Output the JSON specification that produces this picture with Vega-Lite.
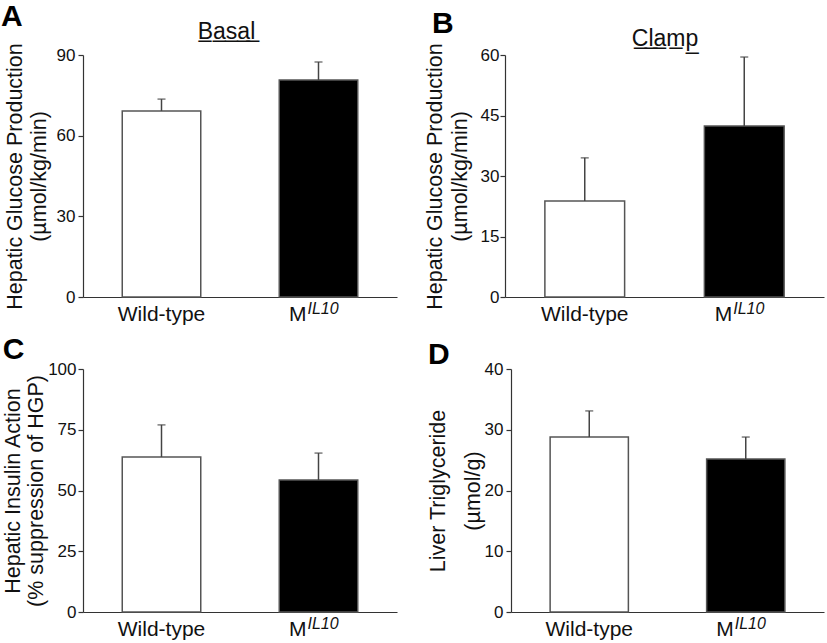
{
  "$schema": "https://vega.github.io/schema/vega-lite/v6.json",
  "padding": {"left": 1, "top": 2, "right": 2, "bottom": 0},
  "config": {
    "font": "Liberation Sans",
    "view": {"stroke": null},
    "axis": {"grid": false, "domainColor": "#333", "tickColor": "#333", "domainWidth": 1.2, "tickWidth": 1.2, "tickSize": 5, "labelFontSize": 17, "labelColor": "#111", "labelPadding": 3, "labelFlush": false, "titleFontSize": 21.5, "titleFontWeight": "normal", "titleColor": "#111", "titleLineHeight": 24},
    "title": {"fontSize": 30, "fontWeight": "bold", "anchor": "start", "frame": "bounds", "color": "#000"},
    "text": {"fontSize": 21, "font": "Liberation Sans", "color": "#111"}
  },
  "datasets": {
    "A": [
      {"group": "Wild-type", "label": "Wild-type", "sup": "", "value": 69.2, "err": 73.6},
      {"group": "MIL10", "label": "M", "sup": "IL10", "value": 80.7, "err": 87.4}
    ],
    "B": [
      {"group": "Wild-type", "label": "Wild-type", "sup": "", "value": 23.8, "err": 34.5},
      {"group": "MIL10", "label": "M", "sup": "IL10", "value": 42.4, "err": 59.5}
    ],
    "C": [
      {"group": "Wild-type", "label": "Wild-type", "sup": "", "value": 63.8, "err": 77.0},
      {"group": "MIL10", "label": "M", "sup": "IL10", "value": 54.3, "err": 65.4}
    ],
    "D": [
      {"group": "Wild-type", "label": "Wild-type", "sup": "", "value": 28.8, "err": 33.1},
      {"group": "MIL10", "label": "M", "sup": "IL10", "value": 25.2, "err": 28.8}
    ]
  },
  "spacing": 10,
  "vconcat": [
    {
      "bounds": "flush",
      "spacing": 108,
      "hconcat": [
        {
          "width": 314, "height": 242,
          "title": {"text": "A", "dx": -3, "offset": -12},
          "data": {"name": "A"},
          "resolve": {"axis": {"x": "independent"}},
          "layer": [
            {"mark": {"type": "bar", "stroke": "#555", "strokeWidth": 1.5},
             "encoding": {
               "x": {"field": "group", "type": "nominal", "sort": null, "scale": {"domain": ["Wild-type", "MIL10"], "paddingInner": 0.5, "paddingOuter": 0.25}, "axis": {"orient": "bottom", "title": null, "labels": false, "ticks": false, "domain": true}},
               "y": {"field": "value", "type": "quantitative", "scale": {"domain": [0, 90]}, "axis": {"values": [0, 30, 60, 90], "title": ["Hepatic Glucose Production", "(µmol/kg/min)"], "titlePadding": 6}},
               "fill": {"field": "group", "type": "nominal", "scale": {"domain": ["Wild-type", "MIL10"], "range": ["#ffffff", "#000000"]}, "legend": null}
             }},
            {"mark": {"type": "rule", "color": "#444", "strokeWidth": 1.5},
             "encoding": {
               "x": {"field": "group", "type": "nominal", "sort": null, "axis": {"orient": "top", "title": "B\u0332a\u0332s\u0332a\u0332l\u0332", "titleFontSize": 23, "titlePadding": 12, "titleX": 143, "labels": false, "ticks": false, "domain": false}},
               "y": {"field": "value", "type": "quantitative"},
               "y2": {"field": "err"}
             }},
            {"mark": {"type": "tick", "orient": "horizontal", "size": 8, "thickness": 1.5, "color": "#444"},
             "encoding": {
               "x": {"field": "group", "type": "nominal", "sort": null, "axis": null},
               "y": {"field": "err", "type": "quantitative"}
             }},
            {"transform": [{"filter": "datum.group == 'Wild-type'"}],
             "mark": {"type": "text", "align": "center", "baseline": "alphabetic", "dy": 24},
             "encoding": {
               "x": {"field": "group", "type": "nominal", "sort": null, "axis": null},
               "y": {"datum": 0, "type": "quantitative"},
               "text": {"field": "label"}
             }},
            {"transform": [{"filter": "datum.group == 'MIL10'"}],
             "mark": {"type": "text", "align": "right", "baseline": "alphabetic", "dy": 24, "dx": -12},
             "encoding": {
               "x": {"field": "group", "type": "nominal", "sort": null, "axis": null},
               "y": {"datum": 0, "type": "quantitative"},
               "text": {"field": "label"}
             }},
            {"transform": [{"filter": "datum.group == 'MIL10'"}],
             "mark": {"type": "text", "align": "left", "baseline": "alphabetic", "dy": 17, "dx": -11, "fontSize": 16, "fontStyle": "italic"},
             "encoding": {
               "x": {"field": "group", "type": "nominal", "sort": null, "axis": null},
               "y": {"datum": 0, "type": "quantitative"},
               "text": {"field": "sup"}
             }}
          ]
        },
        {
          "width": 319, "height": 242,
          "title": {"text": "B", "dx": 8, "offset": -12},
          "data": {"name": "B"},
          "resolve": {"axis": {"x": "independent"}},
          "layer": [
            {"mark": {"type": "bar", "stroke": "#555", "strokeWidth": 1.5},
             "encoding": {
               "x": {"field": "group", "type": "nominal", "sort": null, "scale": {"domain": ["Wild-type", "MIL10"], "paddingInner": 0.5, "paddingOuter": 0.25}, "axis": {"orient": "bottom", "title": null, "labels": false, "ticks": false, "domain": true}},
               "y": {"field": "value", "type": "quantitative", "scale": {"domain": [0, 60]}, "axis": {"values": [0, 15, 30, 45, 60], "title": ["Hepatic Glucose Production", "(µmol/kg/min)"], "titlePadding": 9, "titleLineHeight": 25, "labelPadding": 1}},
               "fill": {"field": "group", "type": "nominal", "scale": {"domain": ["Wild-type", "MIL10"], "range": ["#ffffff", "#000000"]}, "legend": null}
             }},
            {"mark": {"type": "rule", "color": "#444", "strokeWidth": 1.5},
             "encoding": {
               "x": {"field": "group", "type": "nominal", "sort": null, "axis": {"orient": "top", "title": "C\u0332l\u0332a\u0332m\u0332p\u0332", "titleFontSize": 23, "titlePadding": 5, "labels": false, "ticks": false, "domain": false}},
               "y": {"field": "value", "type": "quantitative"},
               "y2": {"field": "err"}
             }},
            {"mark": {"type": "tick", "orient": "horizontal", "size": 8, "thickness": 1.5, "color": "#444"},
             "encoding": {
               "x": {"field": "group", "type": "nominal", "sort": null, "axis": null},
               "y": {"field": "err", "type": "quantitative"}
             }},
            {"transform": [{"filter": "datum.group == 'Wild-type'"}],
             "mark": {"type": "text", "align": "center", "baseline": "alphabetic", "dy": 24},
             "encoding": {
               "x": {"field": "group", "type": "nominal", "sort": null, "axis": null},
               "y": {"datum": 0, "type": "quantitative"},
               "text": {"field": "label"}
             }},
            {"transform": [{"filter": "datum.group == 'MIL10'"}],
             "mark": {"type": "text", "align": "right", "baseline": "alphabetic", "dy": 24, "dx": -12},
             "encoding": {
               "x": {"field": "group", "type": "nominal", "sort": null, "axis": null},
               "y": {"datum": 0, "type": "quantitative"},
               "text": {"field": "label"}
             }},
            {"transform": [{"filter": "datum.group == 'MIL10'"}],
             "mark": {"type": "text", "align": "left", "baseline": "alphabetic", "dy": 17, "dx": -11, "fontSize": 16, "fontStyle": "italic"},
             "encoding": {
               "x": {"field": "group", "type": "nominal", "sort": null, "axis": null},
               "y": {"datum": 0, "type": "quantitative"},
               "text": {"field": "sup"}
             }}
          ]
        }
      ]
    },
    {
      "bounds": "flush",
      "spacing": 114,
      "hconcat": [
        {
          "width": 314, "height": 243,
          "title": {"text": "C", "dx": 0, "offset": -5},
          "data": {"name": "C"},
          "layer": [
            {"mark": {"type": "bar", "stroke": "#555", "strokeWidth": 1.5},
             "encoding": {
               "x": {"field": "group", "type": "nominal", "sort": null, "scale": {"domain": ["Wild-type", "MIL10"], "paddingInner": 0.5, "paddingOuter": 0.25}, "axis": {"orient": "bottom", "title": null, "labels": false, "ticks": false, "domain": true}},
               "y": {"field": "value", "type": "quantitative", "scale": {"domain": [0, 100]}, "axis": {"values": [0, 25, 50, 75, 100], "title": ["Hepatic Insulin Action", "(% suppression of HGP)"], "titlePadding": 0, "titleLineHeight": 23, "labelPadding": 2}},
               "fill": {"field": "group", "type": "nominal", "scale": {"domain": ["Wild-type", "MIL10"], "range": ["#ffffff", "#000000"]}, "legend": null}
             }},
            {"mark": {"type": "rule", "color": "#444", "strokeWidth": 1.5},
             "encoding": {
               "x": {"field": "group", "type": "nominal", "sort": null},
               "y": {"field": "value", "type": "quantitative"},
               "y2": {"field": "err"}
             }},
            {"mark": {"type": "tick", "orient": "horizontal", "size": 8, "thickness": 1.5, "color": "#444"},
             "encoding": {
               "x": {"field": "group", "type": "nominal", "sort": null},
               "y": {"field": "err", "type": "quantitative"}
             }},
            {"transform": [{"filter": "datum.group == 'Wild-type'"}],
             "mark": {"type": "text", "align": "center", "baseline": "alphabetic", "dy": 24},
             "encoding": {
               "x": {"field": "group", "type": "nominal", "sort": null},
               "y": {"datum": 0, "type": "quantitative"},
               "text": {"field": "label"}
             }},
            {"transform": [{"filter": "datum.group == 'MIL10'"}],
             "mark": {"type": "text", "align": "right", "baseline": "alphabetic", "dy": 24, "dx": -12},
             "encoding": {
               "x": {"field": "group", "type": "nominal", "sort": null},
               "y": {"datum": 0, "type": "quantitative"},
               "text": {"field": "label"}
             }},
            {"transform": [{"filter": "datum.group == 'MIL10'"}],
             "mark": {"type": "text", "align": "left", "baseline": "alphabetic", "dy": 17, "dx": -11, "fontSize": 16, "fontStyle": "italic"},
             "encoding": {
               "x": {"field": "group", "type": "nominal", "sort": null},
               "y": {"datum": 0, "type": "quantitative"},
               "text": {"field": "sup"}
             }}
          ]
        },
        {
          "width": 313, "height": 243,
          "title": {"text": "D", "dx": 1, "offset": -10},
          "data": {"name": "D"},
          "layer": [
            {"mark": {"type": "bar", "stroke": "#555", "strokeWidth": 1.5},
             "encoding": {
               "x": {"field": "group", "type": "nominal", "sort": null, "scale": {"domain": ["Wild-type", "MIL10"], "paddingInner": 0.5, "paddingOuter": 0.25}, "axis": {"orient": "bottom", "title": null, "labels": false, "ticks": false, "domain": true}},
               "y": {"field": "value", "type": "quantitative", "scale": {"domain": [0, 40]}, "axis": {"values": [0, 10, 20, 30, 40], "title": ["Liver Triglyceride", "(µmol/g)"], "titlePadding": 0, "titleLineHeight": 35}},
               "fill": {"field": "group", "type": "nominal", "scale": {"domain": ["Wild-type", "MIL10"], "range": ["#ffffff", "#000000"]}, "legend": null}
             }},
            {"mark": {"type": "rule", "color": "#444", "strokeWidth": 1.5},
             "encoding": {
               "x": {"field": "group", "type": "nominal", "sort": null},
               "y": {"field": "value", "type": "quantitative"},
               "y2": {"field": "err"}
             }},
            {"mark": {"type": "tick", "orient": "horizontal", "size": 8, "thickness": 1.5, "color": "#444"},
             "encoding": {
               "x": {"field": "group", "type": "nominal", "sort": null},
               "y": {"field": "err", "type": "quantitative"}
             }},
            {"transform": [{"filter": "datum.group == 'Wild-type'"}],
             "mark": {"type": "text", "align": "center", "baseline": "alphabetic", "dy": 24},
             "encoding": {
               "x": {"field": "group", "type": "nominal", "sort": null},
               "y": {"datum": 0, "type": "quantitative"},
               "text": {"field": "label"}
             }},
            {"transform": [{"filter": "datum.group == 'MIL10'"}],
             "mark": {"type": "text", "align": "right", "baseline": "alphabetic", "dy": 24, "dx": -12},
             "encoding": {
               "x": {"field": "group", "type": "nominal", "sort": null},
               "y": {"datum": 0, "type": "quantitative"},
               "text": {"field": "label"}
             }},
            {"transform": [{"filter": "datum.group == 'MIL10'"}],
             "mark": {"type": "text", "align": "left", "baseline": "alphabetic", "dy": 17, "dx": -11, "fontSize": 16, "fontStyle": "italic"},
             "encoding": {
               "x": {"field": "group", "type": "nominal", "sort": null},
               "y": {"datum": 0, "type": "quantitative"},
               "text": {"field": "sup"}
             }}
          ]
        }
      ]
    }
  ]
}
